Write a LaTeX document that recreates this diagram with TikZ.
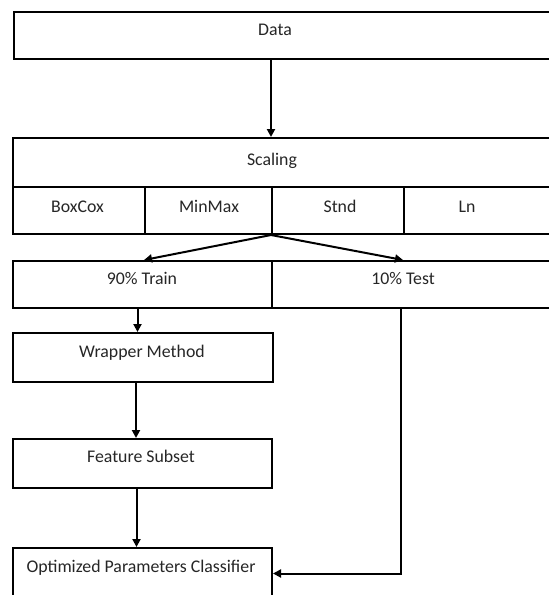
\documentclass[tikz,border=0pt]{standalone}
\usepackage{fontspec}
\setmainfont{Carlito}
\usetikzlibrary{arrows.meta}
\begin{document}
\begin{tikzpicture}[x=1pt,y=-1pt,
  box/.style={draw, line width=2pt, inner sep=0pt, anchor=north west},
  lbl/.style={anchor=base, inner sep=0pt, font=\fontsize{17.8}{20}\selectfont, text=black!85},
  arr/.style={line width=2pt, -{Triangle[length=8pt,width=8pt]}}]
\fill[white] (0,0) rectangle (549,595);
\clip (0,0) rectangle (549,595);
% boxes
\node[box, minimum width=547pt, minimum height=47pt] (data) at (13,11) {};
\node[box, minimum width=548pt, minimum height=49pt] (scal) at (12,137) {};
\node[box, minimum width=132pt, minimum height=47pt] (boxcox) at (12,186) {};
\node[box, minimum width=127pt, minimum height=47pt] (minmax) at (144,186) {};
\node[box, minimum width=132pt, minimum height=47pt] (stnd) at (271,186) {};
\node[box, minimum width=157pt, minimum height=47pt] (ln) at (403,186) {};
\node[box, minimum width=259pt, minimum height=47pt] (train) at (12,260) {};
\node[box, minimum width=289pt, minimum height=47pt] (test) at (271,260) {};
\node[box, minimum width=260pt, minimum height=49pt] (wrap) at (12,332) {};
\node[box, minimum width=259pt, minimum height=49pt] (feat) at (12,438) {};
\node[box, minimum width=259pt, minimum height=62pt] (opt) at (12,547) {};
% labels
\node[lbl] (tdata) at (275,35) {Data};
\node[lbl] (tscal) at (272,165) {Scaling};
\node[lbl] (tboxcox) at (77.5,212) {BoxCox};
\node[lbl] (tminmax) at (209,212) {MinMax};
\node[lbl] (tstnd) at (340,212) {Stnd};
\node[lbl] (tln) at (467,212) {Ln};
\node[lbl] (ttrain) at (142,284) {90\% Train};
\node[lbl] (ttest) at (403,284) {10\% Test};
\node[lbl] (twrap) at (142,357) {Wrapper Method};
\node[lbl] (tfeat) at (141,462) {Feature Subset};
\node[lbl] (topt) at (141,572) {Optimized Parameters Classifier};
% connectors
\draw[arr] (data.south -| stnd.north west) -- (scal.north -| stnd.north west);
\draw[arr] (stnd.south west) -- (train.north -| minmax.south west);
\draw[arr] (stnd.south west) -- (test.north -| ln.south west);
\draw[arr] ([xshift=-5pt]train.south) -- ([xshift=-5pt]train.south |- wrap.north);
\draw[arr] ([xshift=-7pt]wrap.south) -- ([xshift=-7pt]wrap.south |- feat.north);
\draw[arr] ([xshift=-6pt]feat.south) -- ([xshift=-6pt]feat.south |- opt.north);
\draw[arr] ([xshift=-2pt]test.south -| ln.south west) |- ([yshift=5.5pt]opt.east);
\end{tikzpicture}
\end{document}
